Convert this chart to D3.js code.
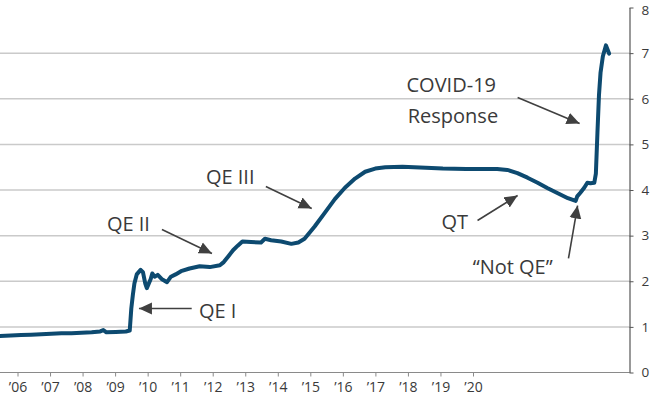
<!DOCTYPE html>
<html>
<head>
<meta charset="utf-8">
<script src="https://cdn.jsdelivr.net/npm/d3@7"></script>
<style>
  body { margin: 0; background: #fff; }
  svg { display: block; font-family: "Open Sans", sans-serif; }
</style>
</head>
<body>
<div id="chart"></div>
<script>
// Fed balance sheet, trillions of USD
const dates = [
  "2005-06-29", "2005-10-05", "2006-01-04", "2006-04-05", "2006-07-05", "2006-10-04",
  "2007-01-03", "2007-04-04", "2007-07-04", "2007-10-03", "2007-12-19", "2008-01-16",
  "2008-02-13", "2008-05-07", "2008-08-06", "2008-09-10", "2008-09-24", "2008-10-08",
  "2008-10-22", "2008-11-12", "2008-12-17", "2009-01-07", "2009-01-28", "2009-02-11",
  "2009-03-18", "2009-04-01", "2009-04-22", "2009-05-20", "2009-06-24", "2009-08-12",
  "2009-09-16", "2009-10-28", "2009-12-16", "2010-03-03", "2010-06-02", "2010-09-01",
  "2010-12-01", "2011-01-05", "2011-02-16", "2011-03-30", "2011-05-11", "2011-06-22",
  "2011-09-07", "2011-12-07", "2012-01-11", "2012-03-07", "2012-06-06", "2012-09-05",
  "2012-11-07", "2013-01-02", "2013-04-03", "2013-07-03", "2013-10-02", "2014-01-01",
  "2014-04-02", "2014-07-02", "2014-10-01", "2014-12-31", "2015-06-03", "2015-12-30",
  "2016-06-01", "2016-12-28", "2017-06-07", "2017-10-04", "2018-01-03", "2018-04-04",
  "2018-07-04", "2018-10-03", "2019-01-02", "2019-04-03", "2019-07-03", "2019-09-11",
  "2019-09-25", "2019-10-23", "2019-11-27", "2019-12-25", "2020-01-22", "2020-02-26",
  "2020-03-11", "2020-03-25", "2020-04-08", "2020-04-22", "2020-05-13", "2020-06-10",
  "2020-06-24", "2020-07-08"
];
const values = [
  0.80, 0.81, 0.82, 0.83, 0.84, 0.85,
  0.86, 0.86, 0.87, 0.88, 0.90, 0.93,
  0.88, 0.89, 0.90, 0.92, 1.40, 1.70,
  1.95, 2.15, 2.25, 2.20, 1.95, 1.85,
  2.05, 2.17, 2.10, 2.14, 2.05, 1.98,
  2.10, 2.15, 2.22, 2.28, 2.33, 2.31,
  2.35, 2.42, 2.55, 2.68, 2.78, 2.87,
  2.86, 2.85, 2.93, 2.90, 2.87, 2.82,
  2.85, 2.93, 3.20, 3.50, 3.80, 4.05,
  4.25, 4.40, 4.47, 4.50, 4.51, 4.49,
  4.47, 4.46, 4.46, 4.46, 4.44, 4.37,
  4.27, 4.16, 4.04, 3.93, 3.82, 3.76,
  3.86, 3.94, 4.05, 4.16, 4.15, 4.16,
  4.36, 5.25, 6.08, 6.57, 6.93, 7.17,
  7.08, 6.99
];
const yTicks = [0, 1, 2, 3, 4, 5, 6, 7, 8];
const xTickLabels = ["’06", "’07", "’08", "’09", "’10", "’11", "’12", "’13", "’14",
  "’15", "’16", "’17", "’18", "’19", "’20"];

// annotation texts and arrows, anchored in data units (decimal year, value)
const noteTexts = ["QE I", "QE II", "QE III", "COVID-19", "Response", "QT", "“Not QE”"];
const noteAt = [
  [2010.40, 1.205], [2008.13, 3.112], [2010.57, 4.142], [2015.52, 6.137],
  [2015.55, 5.479], [2016.385, 3.156], [2017.15, 2.148]
];
const arrowFrom = [
  [2010.22, 1.403], [2009.485, 3.134], [2012.05, 4.077],
  [2018.26, 6.027], [2017.27, 3.332], [2019.515, 2.499]
];
const arrowTo = [
  [2008.92, 1.403], [2010.72, 2.608], [2013.18, 3.595],
  [2019.79, 5.458], [2018.26, 3.879], [2019.74, 3.660]
];

const width = 650, height = 399;
const plotRight = 629.5, plotBottom = 372.5, plotTop = 7.5;

const parse = d3.utcParse("%Y-%m-%d");
const series = dates.map((d, i) => ({ date: parse(d), value: values[i] }));
const yearDate = yr => new Date(Date.UTC(Math.floor(yr), 0, 1) + (yr % 1) * 365.25 * 864e5);

const x = d3.scaleUtc()
  .domain([parse("2005-06-29"), parse("2021-01-08")])
  .range([0, plotRight]);
const y = d3.scaleLinear().domain([0, 8]).range([plotBottom, plotTop]);
const xLabels = d3.scalePoint().domain(xTickLabels).range([17.5, 473]);

const svg = d3.select("#chart").append("svg")
  .attr("width", width)
  .attr("height", height);

// gridlines
svg.append("g")
  .selectAll("line")
  .data(yTicks.filter(v => v > 0 && v < 8))
  .enter().append("line")
  .attr("x1", 0).attr("x2", plotRight)
  .attr("y1", d => y(d)).attr("y2", d => y(d))
  .attr("stroke", "#cacaca")
  .attr("stroke-width", 1.5);

// bottom axis
const xAxis = svg.append("g")
  .attr("transform", `translate(0,${plotBottom})`)
  .call(d3.axisBottom(xLabels).tickSize(4).tickPadding(6).tickSizeOuter(0));
xAxis.select(".domain").attr("d", `M0,0H${plotRight}`).attr("stroke", "#8a8a8a").attr("stroke-width", 1.2);
xAxis.selectAll(".tick line").attr("stroke", "#8a8a8a");
xAxis.selectAll("text").attr("font-size", 14).attr("fill", "#3a3a3a")
  .attr("font-family", "'Open Sans', sans-serif");

// right axis
const yAxis = svg.append("g")
  .attr("transform", `translate(${plotRight},0)`)
  .call(d3.axisRight(y).tickValues(yTicks).tickSize(4).tickPadding(8).tickSizeOuter(0));
yAxis.select(".domain").attr("stroke", "#555").attr("stroke-width", 1.2);
yAxis.selectAll(".tick line").attr("stroke", "#555");
yAxis.selectAll("text").attr("font-size", 13.5).attr("fill", "#3a3a3a")
  .attr("font-family", "'Open Sans', sans-serif")
  .attr("dy", d => d === 8 ? "0.5em" : "0.32em"); // keep top label inside the frame

// the line
const line = d3.line()
  .x(d => x(d.date))
  .y(d => y(d.value));

svg.append("path")
  .datum(series)
  .attr("d", line)
  .attr("fill", "none")
  .attr("stroke", "#0d4a70")
  .attr("stroke-width", 4)
  .attr("stroke-linejoin", "round")
  .attr("stroke-linecap", "round");

// arrowheads
svg.append("defs").append("marker")
  .attr("id", "head")
  .attr("markerUnits", "userSpaceOnUse")
  .attr("viewBox", "0 0 12 12")
  .attr("refX", 12).attr("refY", 6)
  .attr("markerWidth", 13).attr("markerHeight", 13)
  .attr("orient", "auto")
  .append("path")
  .attr("d", "M0,0.5L12,6L0,11.5Z")
  .attr("fill", "#404040");

svg.append("g")
  .selectAll("line")
  .data(arrowFrom)
  .enter().append("line")
  .attr("x1", d => x(yearDate(d[0])))
  .attr("y1", d => y(d[1]))
  .attr("x2", (d, i) => x(yearDate(arrowTo[i][0])))
  .attr("y2", (d, i) => y(arrowTo[i][1]))
  .attr("stroke", "#404040")
  .attr("stroke-width", 1.6)
  .attr("marker-end", "url(#head)");

// annotation text
svg.append("g")
  .selectAll("text")
  .data(noteTexts)
  .enter().append("text")
  .attr("x", (d, i) => x(yearDate(noteAt[i][0])))
  .attr("y", (d, i) => y(noteAt[i][1]))
  .attr("font-size", 20)
  .attr("fill", "#3a3a3a")
  .text(d => d);
</script>
</body>
</html>
